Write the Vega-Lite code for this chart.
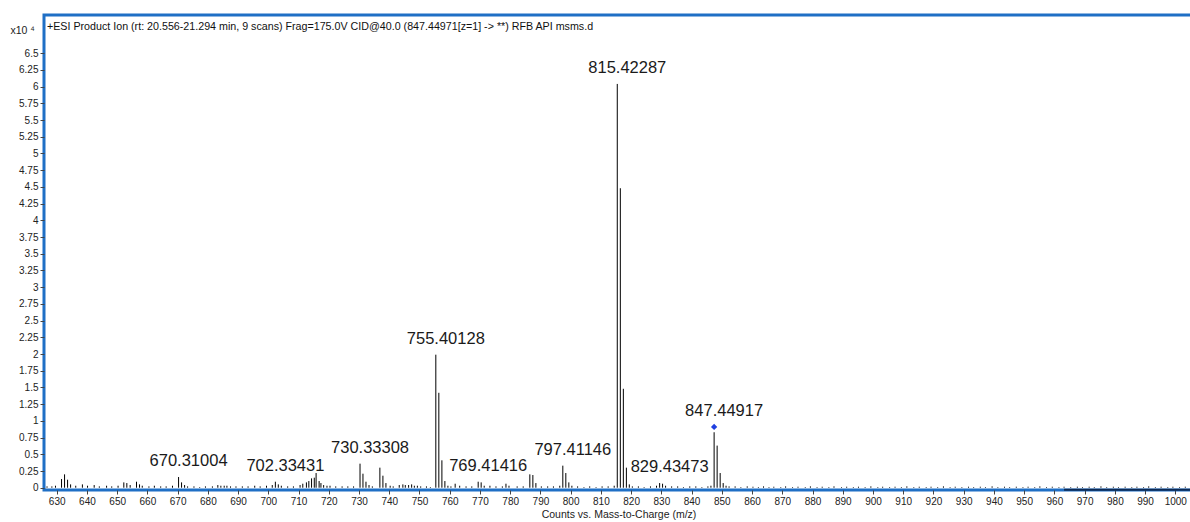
{
  "$schema": "https://vega.github.io/schema/vega-lite/v6.json",
  "width": 1149,
  "height": 475,
  "autosize": {"type": "none"},
  "padding": {"left": 44, "top": 15, "right": 0, "bottom": 32},
  "background": "white",
  "title": {
    "text": "+ESI Product Ion (rt: 20.556-21.294 min, 9 scans) Frag=175.0V CID@40.0 (847.44971[z=1] -> **) RFB API msms.d",
    "anchor": "start",
    "frame": "group",
    "orient": "top",
    "offset": -28,
    "dx": 3,
    "baseline": "bottom",
    "font": "Liberation Sans",
    "fontSize": 10.7,
    "fontWeight": "normal",
    "color": "#111111"
  },
  "config": {
    "view": {"stroke": "#1f6fc5", "strokeWidth": 3},
    "axis": {
      "labelFont": "Liberation Sans",
      "labelFontSize": 10,
      "labelColor": "#222222",
      "titleFont": "Liberation Sans",
      "titleFontSize": 10.5,
      "titleFontWeight": "normal",
      "titleColor": "#222222",
      "grid": false,
      "domain": false,
      "tickColor": "#444444",
      "tickSize": 4,
      "labelPadding": 2,
      "labelOverlap": false
    }
  },
  "datasets": {
    "peaks": [
      {"mz": 626.8, "i": 0.02}, {"mz": 628.4, "i": 0.02}, {"mz": 629.6, "i": 0.03},
      {"mz": 631.6, "i": 0.13}, {"mz": 632.6, "i": 0.20}, {"mz": 633.6, "i": 0.12}, {"mz": 634.6, "i": 0.05},
      {"mz": 636.3, "i": 0.03}, {"mz": 638.5, "i": 0.05}, {"mz": 640.2, "i": 0.03}, {"mz": 642.4, "i": 0.04},
      {"mz": 644.1, "i": 0.02}, {"mz": 646.5, "i": 0.03}, {"mz": 648.2, "i": 0.02}, {"mz": 650.3, "i": 0.03},
      {"mz": 652.2, "i": 0.08}, {"mz": 653.2, "i": 0.07}, {"mz": 654.3, "i": 0.04}, {"mz": 656.4, "i": 0.09},
      {"mz": 657.4, "i": 0.05}, {"mz": 658.3, "i": 0.03}, {"mz": 660.5, "i": 0.02}, {"mz": 662.3, "i": 0.03},
      {"mz": 664.4, "i": 0.02}, {"mz": 666.2, "i": 0.02}, {"mz": 668.3, "i": 0.03},
      {"mz": 670.31, "i": 0.16}, {"mz": 671.3, "i": 0.08}, {"mz": 672.3, "i": 0.04}, {"mz": 673.3, "i": 0.02},
      {"mz": 675.4, "i": 0.02}, {"mz": 677.3, "i": 0.01}, {"mz": 679.2, "i": 0.02}, {"mz": 681.5, "i": 0.02},
      {"mz": 683.3, "i": 0.04}, {"mz": 684.3, "i": 0.03}, {"mz": 685.4, "i": 0.03}, {"mz": 686.3, "i": 0.03},
      {"mz": 687.5, "i": 0.02}, {"mz": 689.3, "i": 0.02}, {"mz": 691.4, "i": 0.02}, {"mz": 693.3, "i": 0.02},
      {"mz": 695.5, "i": 0.03}, {"mz": 697.3, "i": 0.02}, {"mz": 699.4, "i": 0.03}, {"mz": 701.3, "i": 0.04},
      {"mz": 702.33, "i": 0.09}, {"mz": 703.3, "i": 0.05}, {"mz": 704.3, "i": 0.03}, {"mz": 706.4, "i": 0.02},
      {"mz": 708.3, "i": 0.02}, {"mz": 710.5, "i": 0.04}, {"mz": 711.4, "i": 0.06}, {"mz": 712.6, "i": 0.08},
      {"mz": 713.4, "i": 0.10}, {"mz": 714.3, "i": 0.14}, {"mz": 715.2, "i": 0.15}, {"mz": 715.8, "i": 0.22},
      {"mz": 716.8, "i": 0.10}, {"mz": 717.4, "i": 0.07}, {"mz": 718.3, "i": 0.04}, {"mz": 719.4, "i": 0.03},
      {"mz": 720.4, "i": 0.03}, {"mz": 722.3, "i": 0.02}, {"mz": 724.4, "i": 0.02}, {"mz": 726.3, "i": 0.02},
      {"mz": 728.2, "i": 0.02}, {"mz": 730.33, "i": 0.36}, {"mz": 731.3, "i": 0.21}, {"mz": 732.3, "i": 0.09},
      {"mz": 733.3, "i": 0.04}, {"mz": 734.4, "i": 0.02}, {"mz": 736.9, "i": 0.30}, {"mz": 737.9, "i": 0.18},
      {"mz": 738.9, "i": 0.07}, {"mz": 740.3, "i": 0.03}, {"mz": 741.3, "i": 0.02}, {"mz": 743.3, "i": 0.04},
      {"mz": 744.5, "i": 0.05}, {"mz": 745.3, "i": 0.04}, {"mz": 746.4, "i": 0.04}, {"mz": 747.4, "i": 0.05},
      {"mz": 748.3, "i": 0.03}, {"mz": 749.3, "i": 0.03}, {"mz": 750.4, "i": 0.02}, {"mz": 752.3, "i": 0.02},
      {"mz": 753.6, "i": 0.01}, {"mz": 755.40, "i": 1.99}, {"mz": 756.40, "i": 1.42}, {"mz": 757.41, "i": 0.41},
      {"mz": 758.4, "i": 0.10}, {"mz": 759.4, "i": 0.03}, {"mz": 760.4, "i": 0.02}, {"mz": 761.8, "i": 0.06},
      {"mz": 763.3, "i": 0.03}, {"mz": 765.4, "i": 0.02}, {"mz": 767.3, "i": 0.02}, {"mz": 769.41, "i": 0.09},
      {"mz": 770.4, "i": 0.08}, {"mz": 771.4, "i": 0.03}, {"mz": 773.3, "i": 0.03}, {"mz": 775.3, "i": 0.02},
      {"mz": 777.4, "i": 0.02}, {"mz": 778.6, "i": 0.06}, {"mz": 779.6, "i": 0.03}, {"mz": 782.3, "i": 0.02},
      {"mz": 784.3, "i": 0.02}, {"mz": 786.5, "i": 0.20}, {"mz": 787.5, "i": 0.19}, {"mz": 788.5, "i": 0.07},
      {"mz": 790.3, "i": 0.02}, {"mz": 792.4, "i": 0.02}, {"mz": 794.3, "i": 0.02}, {"mz": 796.4, "i": 0.03},
      {"mz": 797.41, "i": 0.33}, {"mz": 798.4, "i": 0.22}, {"mz": 799.4, "i": 0.08}, {"mz": 800.4, "i": 0.03},
      {"mz": 802.3, "i": 0.02}, {"mz": 804.4, "i": 0.01}, {"mz": 806.3, "i": 0.02}, {"mz": 808.4, "i": 0.01},
      {"mz": 810.4, "i": 0.02}, {"mz": 812.4, "i": 0.02}, {"mz": 814.4, "i": 0.03},
      {"mz": 815.42, "i": 6.04}, {"mz": 816.43, "i": 4.48}, {"mz": 817.43, "i": 1.48}, {"mz": 818.43, "i": 0.30},
      {"mz": 819.4, "i": 0.05}, {"mz": 820.4, "i": 0.02}, {"mz": 822.4, "i": 0.02}, {"mz": 824.3, "i": 0.01},
      {"mz": 826.4, "i": 0.02}, {"mz": 828.4, "i": 0.03}, {"mz": 829.43, "i": 0.07}, {"mz": 830.4, "i": 0.06},
      {"mz": 831.4, "i": 0.03}, {"mz": 833.4, "i": 0.02}, {"mz": 835.4, "i": 0.02}, {"mz": 837.3, "i": 0.01},
      {"mz": 839.4, "i": 0.02}, {"mz": 841.4, "i": 0.02}, {"mz": 843.4, "i": 0.01}, {"mz": 845.4, "i": 0.02},
      {"mz": 846.4, "i": 0.03}, {"mz": 847.45, "i": 0.83}, {"mz": 848.45, "i": 0.63}, {"mz": 849.45, "i": 0.22},
      {"mz": 850.45, "i": 0.07}, {"mz": 851.4, "i": 0.03}, {"mz": 852.4, "i": 0.02}, {"mz": 854.4, "i": 0.02},
      {"mz": 856.3, "i": 0.01}, {"mz": 858.4, "i": 0.02},
      {"mz": 860.3, "i": 0.015}, {"mz": 862.1, "i": 0.01}, {"mz": 863.8, "i": 0.02}, {"mz": 865.6, "i": 0.01},
      {"mz": 867.2, "i": 0.015}, {"mz": 869.5, "i": 0.01}, {"mz": 871.1, "i": 0.02}, {"mz": 873.4, "i": 0.01},
      {"mz": 875.2, "i": 0.015}, {"mz": 877.6, "i": 0.01}, {"mz": 879.3, "i": 0.02}, {"mz": 881.5, "i": 0.01},
      {"mz": 883.2, "i": 0.015}, {"mz": 885.4, "i": 0.01}, {"mz": 887.1, "i": 0.02}, {"mz": 889.6, "i": 0.01},
      {"mz": 891.3, "i": 0.015}, {"mz": 893.5, "i": 0.01}, {"mz": 895.2, "i": 0.015}, {"mz": 897.4, "i": 0.01},
      {"mz": 899.3, "i": 0.02}, {"mz": 901.6, "i": 0.01}, {"mz": 903.2, "i": 0.015}, {"mz": 905.5, "i": 0.01},
      {"mz": 907.3, "i": 0.015}, {"mz": 909.4, "i": 0.01}, {"mz": 911.2, "i": 0.02}, {"mz": 913.5, "i": 0.01},
      {"mz": 915.3, "i": 0.015}, {"mz": 917.6, "i": 0.01}, {"mz": 919.2, "i": 0.015}, {"mz": 921.4, "i": 0.01},
      {"mz": 923.3, "i": 0.02}, {"mz": 925.5, "i": 0.01}, {"mz": 927.2, "i": 0.015}, {"mz": 929.4, "i": 0.01},
      {"mz": 931.6, "i": 0.015}, {"mz": 933.3, "i": 0.01}, {"mz": 935.5, "i": 0.015}, {"mz": 937.2, "i": 0.01},
      {"mz": 939.4, "i": 0.02}, {"mz": 941.3, "i": 0.01}, {"mz": 943.5, "i": 0.015}, {"mz": 945.2, "i": 0.01},
      {"mz": 947.4, "i": 0.015}, {"mz": 949.6, "i": 0.01}, {"mz": 951.3, "i": 0.015}, {"mz": 953.5, "i": 0.01},
      {"mz": 955.2, "i": 0.02}, {"mz": 957.4, "i": 0.01}, {"mz": 959.3, "i": 0.015}, {"mz": 961.5, "i": 0.01},
      {"mz": 963.2, "i": 0.015}, {"mz": 965.4, "i": 0.01}, {"mz": 967.6, "i": 0.015}, {"mz": 969.3, "i": 0.01},
      {"mz": 971.5, "i": 0.015}, {"mz": 973.2, "i": 0.01}, {"mz": 975.4, "i": 0.02}, {"mz": 977.3, "i": 0.01},
      {"mz": 979.5, "i": 0.015}, {"mz": 981.2, "i": 0.01}, {"mz": 983.4, "i": 0.015}, {"mz": 985.6, "i": 0.01},
      {"mz": 987.3, "i": 0.015}, {"mz": 989.5, "i": 0.01}, {"mz": 991.2, "i": 0.02}, {"mz": 993.4, "i": 0.01},
      {"mz": 995.3, "i": 0.015}, {"mz": 997.5, "i": 0.01}, {"mz": 999.2, "i": 0.015}, {"mz": 1001.4, "i": 0.01},
      {"mz": 1003.3, "i": 0.015}, {"mz": 1005.1, "i": 0.01}
    ],
    "labels": [
      {"mz": 670.31004, "i": 0.16, "label": "670.31004"},
      {"mz": 702.33431, "i": 0.09, "label": "702.33431"},
      {"mz": 730.33308, "i": 0.36, "label": "730.33308"},
      {"mz": 755.40128, "i": 1.99, "label": "755.40128"},
      {"mz": 769.41416, "i": 0.09, "label": "769.41416"},
      {"mz": 797.41146, "i": 0.33, "label": "797.41146"},
      {"mz": 815.42287, "i": 6.04, "label": "815.42287"},
      {"mz": 829.43473, "i": 0.07, "label": "829.43473"},
      {"mz": 847.44917, "i": 0.91, "label": "847.44917"}
    ],
    "precursor": [
      {"mz": 847.44971, "i": 0.91}
    ],
    "baseline": [
      {"from": 963.2, "to": 1005.85, "i": -0.03}
    ]
  },
  "encoding": {
    "x": {
      "field": "mz", "type": "quantitative",
      "scale": {"domain": [625.8, 1005.85], "nice": false, "zero": false},
      "axis": {
        "values": [630,640,650,660,670,680,690,700,710,720,730,740,750,760,770,780,790,800,810,820,830,840,850,860,870,880,890,900,910,920,930,940,950,960,970,980,990,1000],
        "format": "d",
        "title": "Counts vs. Mass-to-Charge (m/z)",
        "titlePadding": 3,
        "labelFlush": false,
        "labelOverlap": false
      }
    },
    "y": {
      "field": "i", "type": "quantitative",
      "scale": {"domain": [-0.034, 7.071], "nice": false, "zero": false},
      "axis": {
        "values": [0,0.25,0.5,0.75,1,1.25,1.5,1.75,2,2.25,2.5,2.75,3,3.25,3.5,3.75,4,4.25,4.5,4.75,5,5.25,5.5,5.75,6,6.25,6.5],
        "format": ".3~g",
        "labelOverlap": false,
        "title": "x10 ⁴",
        "titleAngle": 0,
        "titleX": -34,
        "titleY": 15,
        "titleAlign": "left",
        "titleBaseline": "middle"
      }
    }
  },
  "layer": [
    {
      "data": {"name": "peaks"},
      "mark": {"type": "rule", "color": "#000000", "strokeWidth": 1, "clip": true},
      "encoding": {
        "y2": {"datum": 0}
      }
    },
    {
      "data": {"name": "baseline"},
      "mark": {"type": "rule", "color": "#0d2a55", "strokeWidth": 2, "clip": false},
      "encoding": {
        "x": {"field": "from", "type": "quantitative"},
        "x2": {"field": "to"}
      }
    },
    {
      "data": {"name": "labels"},
      "mark": {"type": "text", "font": "Liberation Sans", "fontSize": 16.5, "color": "#1a1a1a", "baseline": "bottom", "dx": 10, "dy": -8},
      "encoding": {
        "text": {"field": "label"}
      }
    },
    {
      "data": {"name": "precursor"},
      "mark": {"type": "point", "shape": "diamond", "filled": true, "size": 40, "color": "#1f3fe0", "opacity": 1},
      "encoding": {}
    }
  ]
}
